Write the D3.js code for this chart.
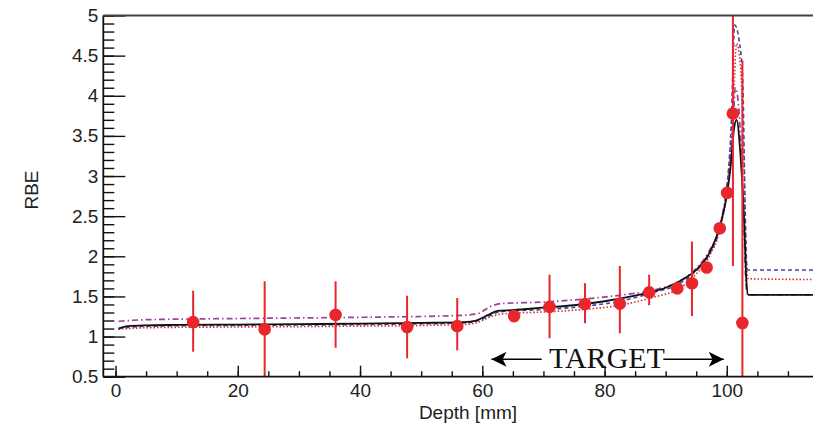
<!DOCTYPE html>
<html><head><meta charset="utf-8">
<script src="https://cdn.jsdelivr.net/npm/d3@7"></script>
<style>
html,body{margin:0;padding:0;background:#fff;}
svg{display:block;}
</style></head>
<body>
<svg id="chart" width="813" height="424"></svg>
<script>
// ---- data ----
const xMajorTicks = [0, 20, 40, 60, 80, 100];
const yMajorTicks = [0.5, 1, 1.5, 2, 2.5, 3, 3.5, 4, 4.5, 5];
const yTickLabels = ["0.5", "1", "1.5", "2", "2.5", "3", "3.5", "4", "4.5", "5"];

// measured points (depth mm, RBE, error low, error high)
const ptDepth = [12.7, 24.4, 36.0, 47.7, 55.9, 65.2, 71.0, 76.8, 82.5, 87.3, 91.9, 94.3, 96.7, 98.85, 100.05, 101.0, 102.55];
const ptRBE   = [1.18, 1.09, 1.27, 1.12, 1.13, 1.255, 1.37, 1.405, 1.41, 1.55, 1.60, 1.665, 1.86, 2.35, 2.79, 3.78, 1.17];
const ptErrLo = [0.37, 0.60, 0.41, 0.39, 0.30, 0, 0.39, 0.24, 0.37, 0.16, 0, 0.41, 0, 0, 0, 1.90, 3.27];
const ptErrHi = [0.39, 0.60, 0.42, 0.39, 0.35, 0, 0.40, 0.26, 0.47, 0.22, 0, 0.52, 0, 0, 0, 1.90, 3.27];

// model curves
const solidX = [0.5, 2, 5, 10, 20, 30, 40, 50, 57, 59, 61, 62.5, 65, 70, 75, 80, 85, 88, 91, 93, 95, 97, 98.85, 100, 100.6, 101.2, 101.6, 102.2, 102.8, 103.2, 103.5, 106, 116];
const solidY = [1.10, 1.13, 1.14, 1.145, 1.15, 1.155, 1.16, 1.17, 1.18, 1.20, 1.27, 1.32, 1.33, 1.36, 1.39, 1.44, 1.51, 1.56, 1.64, 1.72, 1.83, 2.02, 2.37, 2.76, 3.1, 3.6, 3.7, 3.3, 2.5, 1.7, 1.52, 1.52, 1.52];

const dashX = [0.5, 5, 20, 40, 57, 59, 61.5, 63, 71, 77, 82.5, 88, 92, 95, 97, 99, 100, 100.7, 101.3, 102.0, 102.6, 103.0, 103.3, 103.5, 116];
const dashY = [1.10, 1.13, 1.14, 1.15, 1.17, 1.19, 1.27, 1.31, 1.34, 1.38, 1.44, 1.55, 1.65, 1.82, 2.01, 2.40, 2.85, 3.6, 4.88, 4.7, 4.2, 2.6, 1.85, 1.83, 1.83];

const dotX = [0.5, 5, 20, 40, 57, 59, 61.5, 63, 71, 77, 82.5, 88, 92, 95, 97, 99, 100, 101, 101.6, 102.2, 102.8, 103.2, 103.5, 116];
const dotY = [1.09, 1.11, 1.12, 1.13, 1.15, 1.17, 1.25, 1.28, 1.31, 1.34, 1.39, 1.49, 1.59, 1.78, 1.98, 2.38, 2.80, 3.8, 4.65, 4.4, 3.2, 1.9, 1.72, 1.71];

const dashDotX = [0.5, 5, 20, 40, 55, 59, 61.5, 63, 70, 77, 83, 88, 92, 95, 97, 99, 100, 101, 101.4, 102.0, 102.7, 103.2, 103.5, 116];
const dashDotY = [1.19, 1.21, 1.225, 1.24, 1.26, 1.28, 1.38, 1.41, 1.43, 1.47, 1.52, 1.58, 1.68, 1.85, 2.05, 2.42, 2.85, 3.6, 4.1, 3.8, 2.6, 1.6, 1.52, 1.52];

const targetRange = [61.5, 99.5];
const targetLabel = "TARGET";
const xLabel = "Depth [mm]";
const yLabel = "RBE";

// ---- chart ----
const sans = "'Liberation Sans',Arial,Helvetica,sans-serif";
const serif = "'Liberation Serif','Times New Roman',Times,serif";
const svg = d3.select("#chart");
const L = 103.3, R = 813, T = 15.5, B = 376.7;
const x = d3.scaleLinear().domain([-2, 114.1]).range([L, R]);
const y = d3.scaleLinear().domain([0.5, 5]).range([B, T]);

const defs = svg.append("defs");
defs.append("clipPath").attr("id", "plotclip")
  .append("rect").attr("x", L).attr("y", T).attr("width", R - L).attr("height", B - T);

const plot = svg.append("g").attr("clip-path", "url(#plotclip)");

function drawCurve(xs, ys, color, dash, width) {
  const pts = xs.map((d, i) => [d, ys[i]]);
  const line = d3.line().x(d => x(d[0])).y(d => y(d[1])).curve(d3.curveMonotoneX);
  plot.append("path").attr("d", line(pts)).attr("fill", "none")
    .attr("stroke", color).attr("stroke-width", width)
    .attr("stroke-dasharray", dash);
}
drawCurve(dashDotX, dashDotY, "#a0409a", "6,3,1.5,3", 1.7);
drawCurve(dotX, dotY, "#e8262b", "1.5,2", 1.6);
drawCurve(dashX, dashY, "#3a48a8", "4,3", 1.6);
drawCurve(solidX, solidY, "#111", null, 1.8);

// error bars
const red = "#e8262b";
ptDepth.forEach((d, i) => {
  if (ptErrLo[i] > 0 || ptErrHi[i] > 0) {
    plot.append("line").attr("x1", x(d)).attr("x2", x(d))
      .attr("y1", y(ptRBE[i] - ptErrLo[i])).attr("y2", y(ptRBE[i] + ptErrHi[i]))
      .attr("stroke", red).attr("stroke-width", 2);
  }
});
plot.selectAll("circle.pt").data(ptDepth).enter().append("circle")
  .attr("class", "pt")
  .attr("cx", d => x(d)).attr("cy", (d, i) => y(ptRBE[i])).attr("r", 6.3)
  .attr("fill", red);

// axes
const xMinor = d3.range(0, 115, 5);
const yMinor = d3.range(0.5, 5.001, 0.1).map(v => +v.toFixed(2));

const gx = svg.append("g").attr("transform", `translate(0,${B})`);
gx.call(d3.axisBottom(x).tickValues(xMinor).tickSize(-5.5).tickFormat(""))
  .call(g => g.select(".domain").remove());
gx.selectAll("line").attr("stroke", "#111").attr("stroke-width", 1.4);
const gx2 = svg.append("g").attr("transform", `translate(0,${B})`);
gx2.call(d3.axisBottom(x).tickValues(xMajorTicks).tickSize(-11).tickPadding(4).tickFormat(d3.format("d")))
  .call(g => g.select(".domain").remove());
gx2.selectAll("line").attr("stroke", "#111").attr("stroke-width", 1.4);
gx2.selectAll("text").attr("fill", "#222").attr("dy", "0.85em")
  .style("font-size", "19px").style("font-family", sans);

const gy = svg.append("g").attr("transform", `translate(${L},0)`);
gy.call(d3.axisLeft(y).tickValues(yMinor).tickSize(-11).tickFormat(""))
  .call(g => g.select(".domain").remove());
gy.selectAll("line").attr("stroke", "#111").attr("stroke-width", 1.4);
const gy2 = svg.append("g").attr("transform", `translate(${L},0)`);
gy2.call(d3.axisLeft(y).tickValues(yMajorTicks).tickSize(-22).tickPadding(5)
    .tickFormat((d, i) => yTickLabels[i]))
  .call(g => g.select(".domain").remove());
gy2.selectAll("line").attr("stroke", "#111").attr("stroke-width", 1.4);
gy2.selectAll("text").attr("fill", "#222")
  .style("font-size", "19px").style("font-family", sans);

// frame
svg.append("line").attr("x1", L).attr("x2", R).attr("y1", B).attr("y2", B).attr("stroke", "#111").attr("stroke-width", 1.8);
svg.append("line").attr("x1", L).attr("x2", L).attr("y1", T).attr("y2", B).attr("stroke", "#111").attr("stroke-width", 1.8);
svg.append("line").attr("x1", L).attr("x2", R).attr("y1", T).attr("y2", T).attr("stroke", "#444").attr("stroke-width", 2.2);

// axis titles
svg.append("text").attr("x", 468).attr("y", 419).attr("text-anchor", "middle")
  .attr("fill", "#222").style("font-size", "19px").style("font-family", sans).text(xLabel);
svg.append("text").attr("transform", "translate(38,190) rotate(-90)").attr("text-anchor", "middle")
  .attr("fill", "#222").style("font-size", "19px").style("font-family", sans).text(yLabel);

// TARGET annotation
defs.append("marker").attr("id", "ah").attr("viewBox", "0 0 10 10").attr("refX", 10).attr("refY", 5)
  .attr("markerWidth", 17).attr("markerHeight", 15).attr("markerUnits", "userSpaceOnUse").attr("orient", "auto")
  .append("path").attr("d", "M0,0 L10,5 L0,10 L2.5,5 Z").attr("fill", "#000");
const tY = 359.3;
svg.append("line").attr("x1", 541.7).attr("x2", x(targetRange[0])).attr("y1", tY).attr("y2", tY)
  .attr("stroke", "#000").attr("stroke-width", 1.6).attr("marker-end", "url(#ah)");
svg.append("line").attr("x1", 663.3).attr("x2", x(targetRange[1])).attr("y1", tY).attr("y2", tY)
  .attr("stroke", "#000").attr("stroke-width", 1.6).attr("marker-end", "url(#ah)");
svg.append("text").attr("x", 607).attr("y", 368.3).attr("text-anchor", "middle")
  .attr("fill", "#111").style("font-size", "30px").style("font-family", serif).text(targetLabel);
</script>
</body></html>
